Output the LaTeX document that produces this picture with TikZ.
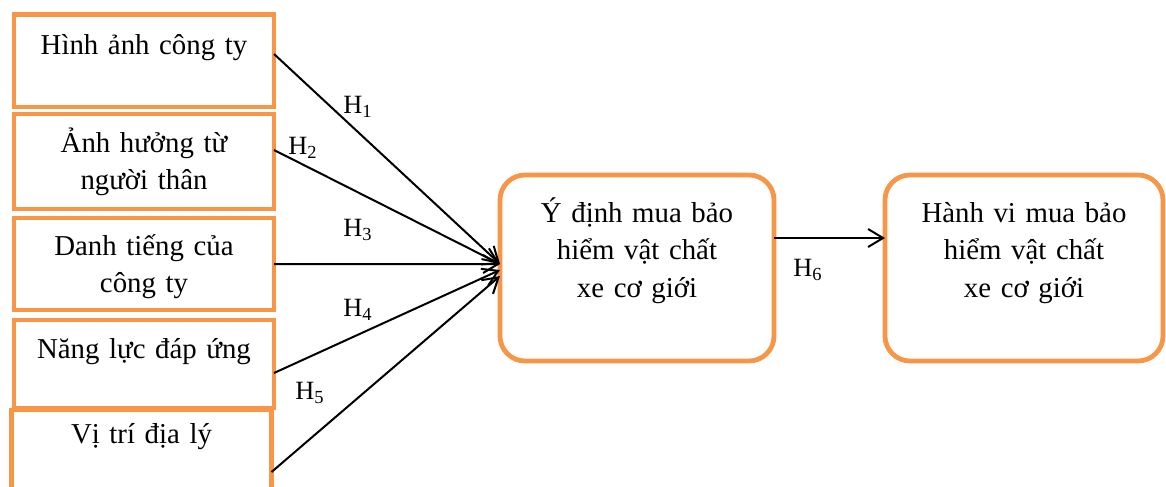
\documentclass[tikz,border=0pt]{standalone}
\usepackage{fontspec}
\setmainfont{Liberation Serif}
\usetikzlibrary{positioning,arrows.meta}
\definecolor{boxorange}{HTML}{F79646}
\tikzset{
  factor/.style={draw=boxorange, line width=0.095cm, fill=white, align=center, text width=5.2cm, minimum width=5.2cm, inner xsep=0pt, inner ysep=0pt, outer sep=0pt, font=\fontsize{16.4}{21.6}\selectfont, text height=0.78cm},
  outcome/.style={factor, rounded corners=0.5cm, text height=0.94cm, text depth=2.78cm},
  hyparr/.style={-{Straight Barb[length=0.3cm,width=0.36cm]}, line width=0.04cm},
  hyplabel/.style={font=\fontsize{15}{18}\selectfont, inner sep=0pt}
}

\begin{document}
\begin{tikzpicture}
\useasboundingbox (0,0) rectangle (23.32,-9.72);
% left column: the five factors
\node[factor, anchor=north west, text height=0.8cm, text depth=1.05cm] (hinhanh) at (0.28,-0.29) {Hình ảnh công ty};
\node[factor, below=0.14cm of hinhanh, text height=0.76cm, text depth=1.14cm] (anhhuong) {Ảnh hưởng từ\\người thân};
\node[factor, below=0.18cm of anhhuong, text height=0.74cm, text depth=1.1cm] (danhtieng) {Danh tiếng của\\công ty};
\node[factor, below=0.2cm of danhtieng, text height=0.76cm, text depth=1.0cm] (nangluc) {Năng lực đáp ứng};
\node[factor, below=0.04cm of nangluc, xshift=-0.05cm, text height=0.66cm, text depth=1.18cm] (vitri) {Vị trí địa lý};

% intention and behaviour
\node[outcome, anchor=north west, text width=5.48cm, minimum width=5.48cm] (ydinh) at (10.0,-3.5) {Ý định mua bảo\\hiểm vật chất\\xe cơ giới};
\node[outcome, right=2.22cm of ydinh, text width=5.56cm, minimum width=5.56cm] (hanhvi) {Hành vi mua bảo\\hiểm vật chất\\xe cơ giới};

% hypotheses
\draw[hyparr] ([yshift=0.135cm]hinhanh.east) -- ([yshift=0.08cm]ydinh.west);
\draw[hyparr] ([yshift=0.23cm]anhhuong.east) -- ([yshift=0.08cm]ydinh.west);
\draw[hyparr] (danhtieng.east) -- ([yshift=0.08cm]ydinh.west);
\draw[hyparr] ([yshift=-0.18cm]nangluc.east) -- ([yshift=-0.04cm]ydinh.west);
\draw[hyparr] ([yshift=-0.32cm]vitri.east) -- ([yshift=-0.16cm]ydinh.west);
\draw[hyparr] ([yshift=0.6cm]ydinh.east) -- ([yshift=0.6cm]hanhvi.west);

\node[hyplabel] (h1) at (7.16,-2.14) {H\textsubscript{1}};
\node[hyplabel] (h2) at (6.06,-2.96) {H\textsubscript{2}};
\node[hyplabel] (h3) at (7.16,-4.6) {H\textsubscript{3}};
\node[hyplabel] (h4) at (7.16,-6.2) {H\textsubscript{4}};
\node[hyplabel] (h5) at (6.2,-7.86) {H\textsubscript{5}};
\node[hyplabel] (h6) at (16.16,-5.4) {H\textsubscript{6}};
\end{tikzpicture}
\end{document}
